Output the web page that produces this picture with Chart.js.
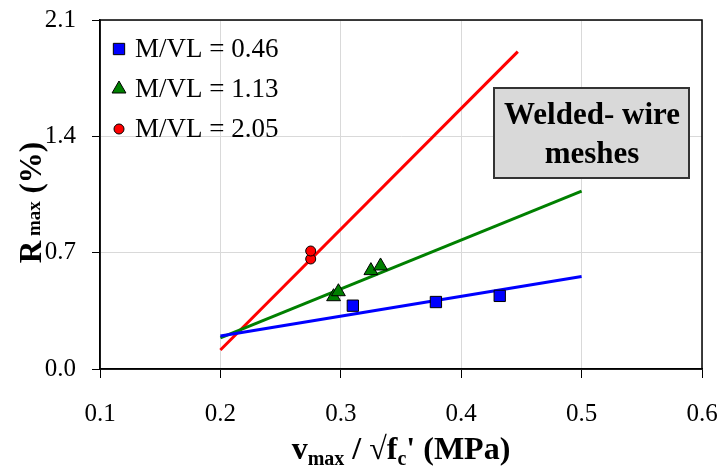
<!DOCTYPE html>
<html>
<head>
<meta charset="utf-8">
<script src="https://cdn.jsdelivr.net/npm/chart.js@4/dist/chart.umd.min.js"></script>
<style>
  html, body { margin: 0; padding: 0; background: #fff; }
  #wrap { width: 721px; height: 469px; position: relative; }
</style>
</head>
<body>
<div id="wrap"><canvas id="rmaxChart"></canvas></div>
<script>
// Datos
const seriesLabels = ['M/VL = 0.46', 'M/VL = 1.13', 'M/VL = 2.05'];

const xSquares = [0.310, 0.379, 0.432];
const ySquares = [0.381, 0.403, 0.440];

const xTriangles = [0.294, 0.298, 0.325, 0.333];
const yTriangles = [0.435, 0.465, 0.592, 0.620];

const xCircles = [0.275, 0.275];
const yCircles = [0.662, 0.710];

// rectas de ajuste (extremos)
const xFitBlue = [0.2, 0.5];
const yFitBlue = [0.199, 0.556];
const xFitGreen = [0.2, 0.5];
const yFitGreen = [0.187, 1.070];
const xFitRed = [0.2, 0.447];
const yFitRed = [0.114, 1.910];

const xTicks = [0.1, 0.2, 0.3, 0.4, 0.5, 0.6];
const yTicks = [0.0, 0.7, 1.4, 2.1];

const boxLines = ['Welded- wire', 'meshes'];

const FONT = "'Liberation Serif', 'Times New Roman', serif";

function pts(xs, ys) {
    return xs.map((x, i) => ({ x: x, y: ys[i] }));
}

function markerSet(label, xs, ys, color, style, radius) {
    return {
        type: 'scatter',
        label: label,
        data: pts(xs, ys),
        pointStyle: style,
        pointRadius: radius,
        pointHoverRadius: radius,
        backgroundColor: color,
        borderColor: '#000',
        pointBorderWidth: 1,
        order: 0
    };
}

function fitSet(xs, ys, color) {
    return {
        type: 'line',
        label: '',
        data: pts(xs, ys),
        borderColor: color,
        borderWidth: 3,
        pointRadius: 0,
        fill: false,
        order: 1
    };
}

const markerStyles = [
    { pointStyle: 'rect', radius: 8, fill: '#0000FF' },
    { pointStyle: 'triangle', radius: 8, fill: '#008000' },
    { pointStyle: 'circle', radius: 5, fill: '#FF0000' }
];

const datasets = [
    markerSet(seriesLabels[0], xSquares, ySquares, '#0000FF', 'rect', 8),
    markerSet(seriesLabels[1], xTriangles, yTriangles, '#008000', 'triangle', 8),
    markerSet(seriesLabels[2], xCircles, yCircles, '#FF0000', 'circle', 5),
    fitSet(xFitBlue, yFitBlue, '#0000FF'),
    fitSet(xFitGreen, yFitGreen, '#008000'),
    fitSet(xFitRed, yFitRed, '#FF0000')
];

// texto con subíndices
function drawRich(ctx, parts, x, y, align) {
    let total = 0;
    parts.forEach(p => {
        ctx.font = 'bold ' + p.size + 'px ' + FONT;
        p.w = ctx.measureText(p.t).width;
        total += p.w;
    });
    let cx = align === 'center' ? x - total / 2 : x;
    parts.forEach(p => {
        ctx.font = 'bold ' + p.size + 'px ' + FONT;
        ctx.fillText(p.t, cx, y + (p.dy || 0));
        cx += p.w;
    });
}

const decorPlugin = {
    id: 'decor',
    afterDraw(chart) {
        const ctx = chart.ctx;
        const a = chart.chartArea;
        ctx.save();

        // marco
        ctx.strokeStyle = '#000';
        ctx.lineWidth = 1.5;
        ctx.strokeRect(a.left, a.top, a.right - a.left, a.bottom - a.top);

        // leyenda
        const rowsY = [49, 89, 129];
        ctx.textBaseline = 'middle';
        ctx.textAlign = 'left';
        seriesLabels.forEach((lab, i) => {
            const s = markerStyles[i];
            ctx.fillStyle = s.fill;
            ctx.strokeStyle = '#000';
            ctx.lineWidth = 1;
            Chart.helpers.drawPoint(ctx, { pointStyle: s.pointStyle, radius: s.radius, rotation: 0, borderWidth: 1 }, 119, rowsY[i]);
            ctx.fillStyle = '#000';
            ctx.font = '27px ' + FONT;
            ctx.fillText(lab, 135, rowsY[i] + 1);
        });

        // recuadro
        ctx.fillStyle = '#d9d9d9';
        ctx.fillRect(494, 88, 195, 90);
        ctx.strokeStyle = '#333';
        ctx.lineWidth = 2;
        ctx.strokeRect(494, 88, 195, 90);
        ctx.fillStyle = '#000';
        ctx.textAlign = 'center';
        ctx.font = 'bold 31px ' + FONT;
        ctx.fillText(boxLines[0], 592, 116);
        ctx.fillText(boxLines[1], 592, 155);

        // título eje x
        ctx.textAlign = 'left';
        ctx.textBaseline = 'alphabetic';
        drawRich(ctx, [
            { t: 'v', size: 32 },
            { t: 'max', size: 20, dy: 6 },
            { t: ' / \u221Af', size: 32 },
            { t: 'c', size: 20, dy: 6 },
            { t: '\' (MPa)', size: 32 }
        ], (a.left + a.right) / 2, 459, 'center');

        // título eje y
        ctx.translate(41, (a.top + a.bottom) / 2 + 8);
        ctx.rotate(-Math.PI / 2);
        drawRich(ctx, [
            { t: 'R', size: 31 },
            { t: ' max', size: 19, dy: -1 },
            { t: ' (%)', size: 31 }
        ], 0, 0, 'center');

        ctx.restore();
    }
};

new Chart(document.getElementById('rmaxChart'), {
    type: 'scatter',
    data: { datasets: datasets },
    options: {
        responsive: true,
        maintainAspectRatio: false,
        animation: false,
        layout: { padding: { top: 20, right: 19, left: 0, bottom: 0 } },
        plugins: {
            legend: { display: false },
            tooltip: { enabled: false }
        },
        scales: {
            x: {
                type: 'linear',
                min: 0.1,
                max: 0.6,
                afterFit(s) { s.height = 100; s.paddingLeft = 0; s.paddingRight = 0; },
                afterBuildTicks(s) { s.ticks = xTicks.map(v => ({ value: v })); },
                ticks: {
                    color: '#000',
                    padding: 21,
                    maxRotation: 0,
                    font: { family: FONT, size: 25 },
                    callback: v => v.toFixed(1)
                },
                grid: { color: '#d9d9d9', tickColor: '#000', tickLength: 9, lineWidth: 1 },
                border: { color: '#000', width: 1.5 }
            },
            y: {
                min: 0,
                max: 2.1,
                afterFit(s) { s.width = 100; s.paddingTop = 0; s.paddingBottom = 0; },
                afterBuildTicks(s) { s.ticks = yTicks.map(v => ({ value: v })); },
                ticks: {
                    color: '#000',
                    padding: 16,
                    font: { family: FONT, size: 25 },
                    callback: v => v.toFixed(1)
                },
                grid: { color: '#d9d9d9', tickColor: '#000', tickLength: 8, lineWidth: 1 },
                border: { color: '#000', width: 1.5 }
            }
        }
    },
    plugins: [decorPlugin]
});
</script>
</body>
</html>
